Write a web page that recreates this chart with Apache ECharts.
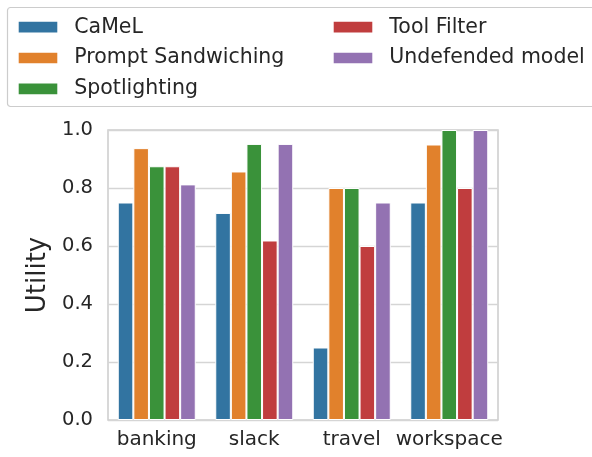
<!DOCTYPE html>
<html>
<head>
<meta charset="utf-8">
<script src="https://cdn.jsdelivr.net/npm/echarts@6/dist/echarts.min.js"></script>
<style>
html,body{margin:0;padding:0;background:#fff;}
#chart{width:592px;height:457px;}
</style>
</head>
<body>
<div id="chart"></div>
<script>
const categories = ['banking', 'slack', 'travel', 'workspace'];
const seriesNames = ['CaMeL', 'Prompt Sandwiching', 'Spotlighting', 'Tool Filter', 'Undefended model'];
const camel = [0.75, 0.714, 0.25, 0.75];
const promptSandwiching = [0.9375, 0.857, 0.80, 0.95];
const spotlighting = [0.875, 0.952, 0.80, 1.0];
const toolFilter = [0.875, 0.619, 0.60, 0.80];
const undefended = [0.8125, 0.952, 0.75, 1.0];
const yTicks = [0, 0.2, 0.4, 0.6, 0.8, 1.0];

const values = [camel, promptSandwiching, spotlighting, toolFilter, undefended];
const colors = ['#3274a1', '#e1812c', '#3a923a', '#c03d3e', '#9372b2'];
const FONT = 'DejaVu Sans';
const TXT = '#262626';

const chart = echarts.init(document.getElementById('chart'), null, {renderer: 'canvas'});
const legendText = {fontFamily: FONT, fontSize: 20.5, color: TXT, lineHeight: 22, padding: [0, 0, 0, 11]};
const legendCommon = {
  orient: 'vertical',
  top: 16.2,
  padding: 0,
  itemWidth: 40.6, itemHeight: 12.7, itemGap: 8.8,
  icon: 'rect',
  textStyle: legendText
};
chart.setOption({
  animation: false,
  backgroundColor: '#fff',
  color: colors,
  graphic: [{
    type: 'rect',
    shape: {x: 7.5, y: 7.5, width: 600, height: 99, r: 3},
    style: {fill: '#fff', stroke: '#cccccc', lineWidth: 1.2},
    z: -1
  }],
  legend: [
    Object.assign({data: seriesNames.slice(0, 3), left: 16.7}, legendCommon),
    Object.assign({data: seriesNames.slice(3), left: 331.7}, legendCommon)
  ],
  grid: {
    left: 108, right: 94, top: 130, bottom: 37,
    show: true, borderColor: '#cccccc', borderWidth: 1.5, containLabel: false
  },
  xAxis: {
    type: 'category',
    data: categories,
    axisLine: {show: false},
    axisTick: {show: false},
    axisLabel: {fontFamily: FONT, fontSize: 20, color: TXT, margin: 10, interval: 0}
  },
  yAxis: {
    type: 'value',
    min: 0, max: 1.0, interval: 0.2,
    name: 'Utility',
    nameLocation: 'middle',
    nameGap: 54,
    nameTextStyle: {fontFamily: FONT, fontSize: 26, color: TXT},
    axisLine: {show: false},
    axisTick: {show: false},
    axisLabel: {
      fontFamily: FONT, fontSize: 19.5, color: TXT, margin: 15,
      formatter: v => {
        const t = yTicks.find(x => Math.abs(x - v) < 1e-9);
        return (t !== undefined ? t : v).toFixed(1);
      }
    },
    splitLine: {show: true, lineStyle: {color: '#d5d5d5', width: 1.3}}
  },
  series: seriesNames.map((name, i) => ({
    name: name,
    type: 'bar',
    data: values[i],
    barGap: '0%',
    barCategoryGap: '20%',
    itemStyle: {color: colors[i], borderColor: '#ffffff', borderWidth: 1}
  }))
});
</script>
</body>
</html>
